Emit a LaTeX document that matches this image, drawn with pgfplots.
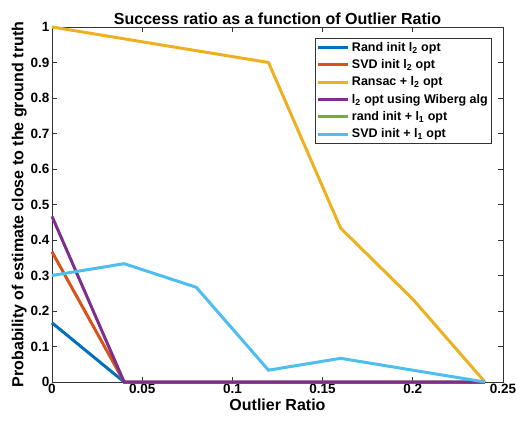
\documentclass[border=0pt]{standalone}
\usepackage{fontspec}
\setmainfont{Liberation Sans}
\setsansfont{Liberation Sans}
\usepackage{pgfplots}
\pgfplotsset{compat=1.18}

\definecolor{mblue}{rgb}{0,0.447,0.741}
\definecolor{mred}{rgb}{0.85,0.325,0.098}
\definecolor{myellow}{rgb}{0.929,0.694,0.125}
\definecolor{mpurple}{rgb}{0.494,0.184,0.556}
\definecolor{mgreen}{rgb}{0.466,0.674,0.188}
\definecolor{mcyan}{rgb}{0.301,0.745,0.933}

\begin{document}
\begin{tikzpicture}
\begin{axis}[
  scale only axis,
  width=451pt, height=355pt,
  xmin=0, xmax=0.25, ymin=0, ymax=1,
  xtick={0,0.05,0.1,0.15,0.2,0.25},
  xticklabels={0,0.05,0.1,0.15,0.2,0.25},
  ytick={0,0.1,0.2,0.3,0.4,0.5,0.6,0.7,0.8,0.9,1},
  yticklabels={0,0.1,0.2,0.3,0.4,0.5,0.6,0.7,0.8,0.9,1},
  tick align=inside,
  tick pos=both,
  major tick length=5pt,
  axis line style={black!80, line width=0.8pt},
  every tick/.style={black!80, line width=0.8pt},
  tick label style={font=\fontsize{13.5}{15}\selectfont\bfseries},
  xticklabel style={yshift=1pt},
  yticklabel style={xshift=1pt},
  title={Success ratio as a function of Outlier Ratio},
  title style={font=\fontsize{16}{18}\selectfont\bfseries, yshift=-7pt},
  xlabel={Outlier Ratio},
  ylabel={Probability of estimate close to the ground truth},
  label style={font=\fontsize{16}{18}\selectfont\bfseries},
  xlabel style={yshift=2pt},
  ylabel style={yshift=-3pt},
  legend style={at={(rel axis cs:0.976,0.97)}, anchor=north east,
    font=\fontsize{12.5}{14}\selectfont\bfseries, draw=black!80,
    line width=0.8pt, inner sep=2pt, row sep=2.8pt,
    legend cell align=left},
  legend image code/.code={\draw (0pt,0pt) -- (30pt,0pt);},
  clip=false,
]
\addplot[mblue, line width=3pt] coordinates {(0,0.1667) (0.04,0) (0.08,0) (0.12,0) (0.16,0) (0.2,0) (0.24,0)};
\addlegendentry{Rand init l\textsubscript{2} opt}
\addplot[mred, line width=3pt] coordinates {(0,0.3667) (0.04,0) (0.08,0) (0.12,0) (0.16,0) (0.2,0) (0.24,0)};
\addlegendentry{SVD init l\textsubscript{2} opt}
\addplot[myellow, line width=3pt] coordinates {(0,1) (0.04,0.9667) (0.08,0.9333) (0.12,0.9) (0.16,0.4333) (0.2,0.2333) (0.24,0)};
\addlegendentry{Ransac + l\textsubscript{2} opt}
\addplot[mpurple, line width=3pt] coordinates {(0,0.4667) (0.04,0) (0.08,0) (0.12,0) (0.16,0) (0.2,0) (0.24,0)};
\addlegendentry{l\textsubscript{2} opt using Wiberg alg}
\addlegendimage{mgreen, line width=3pt}
\addlegendentry{rand init + l\textsubscript{1} opt}
\addplot[mcyan, line width=3pt] coordinates {(0,0.3) (0.04,0.3333) (0.08,0.2667) (0.12,0.0333) (0.16,0.0667) (0.2,0.0333) (0.24,0)};
\addlegendentry{SVD init + l\textsubscript{1} opt}
\end{axis}
\path[use as bounding box] (current axis.south west) ++(-52pt,-40pt) rectangle ([xshift=28pt,yshift=27pt]current axis.north east);
\end{tikzpicture}
\end{document}
